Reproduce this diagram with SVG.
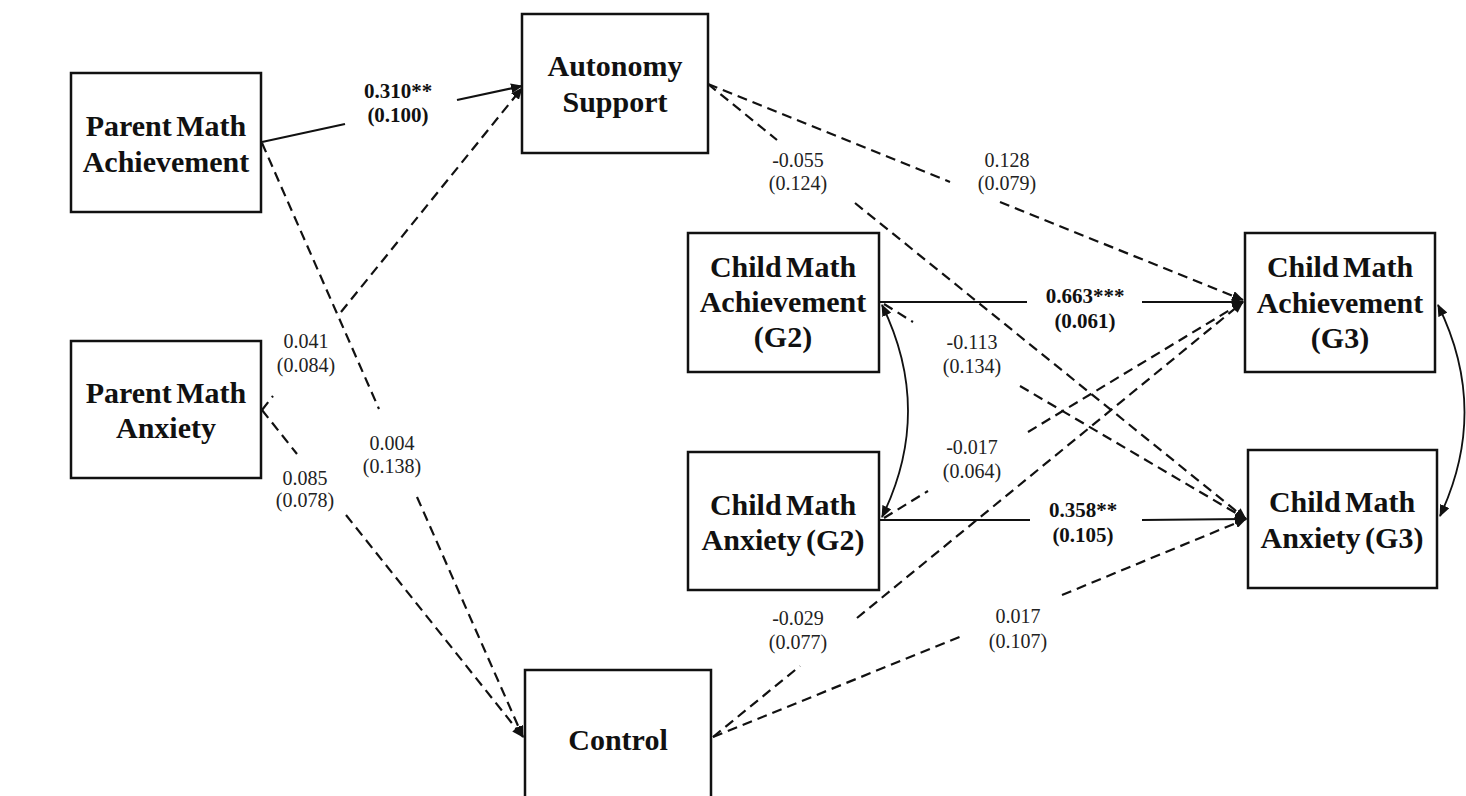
<svg xmlns="http://www.w3.org/2000/svg" width="1466" height="796" viewBox="0 0 1466 796">
<style>
.box{fill:#fff;stroke:#111;stroke-width:2.5}
.nt{font-family:"Liberation Serif","Times New Roman",serif;font-weight:bold;font-size:30px;fill:#111;text-anchor:middle;word-spacing:-3px}
.lb{font-family:"Liberation Serif","Times New Roman",serif;font-size:20px;fill:#222;text-anchor:middle}
.lbb{font-family:"Liberation Serif","Times New Roman",serif;font-size:21px;font-weight:bold;fill:#111;text-anchor:middle}
.sol{fill:none;stroke:#111;stroke-width:2.2}
.das{fill:none;stroke:#111;stroke-width:2.2;stroke-dasharray:10 6}
.cur{fill:none;stroke:#111;stroke-width:1.8}
</style>
<defs>
<marker id="ah" markerUnits="userSpaceOnUse" markerWidth="12" markerHeight="10" refX="11" refY="5" orient="auto-start-reverse">
<path d="M0,0 L12,5 L0,10 Z" fill="#111"/>
</marker>
</defs>
<rect width="1466" height="796" fill="#fff"/>
<g id="connectors">
<line class="sol" x1="262" y1="142" x2="345" y2="124"/>
<line class="sol" x1="457" y1="100" x2="522" y2="86" marker-end="url(#ah)"/>
<line class="das" x1="262" y1="410" x2="273" y2="396"/>
<line class="das" x1="341" y1="312" x2="522" y2="88" marker-end="url(#ah)"/>
<line class="das" x1="262" y1="143" x2="379" y2="409"/>
<line class="das" x1="417" y1="497" x2="523" y2="737" marker-end="url(#ah)"/>
<line class="das" x1="262" y1="410" x2="297" y2="454"/>
<line class="das" x1="346" y1="515" x2="523" y2="737" marker-end="url(#ah)"/>
<line class="das" x1="708" y1="84" x2="950" y2="182"/>
<line class="das" x1="1000" y1="202" x2="1243" y2="300" marker-end="url(#ah)"/>
<line class="das" x1="708" y1="84" x2="777" y2="140"/>
<line class="das" x1="855" y1="203" x2="1246" y2="519" marker-end="url(#ah)"/>
<line class="sol" x1="880" y1="302" x2="1027" y2="302"/>
<line class="sol" x1="1142" y1="302" x2="1243" y2="302" marker-end="url(#ah)"/>
<line class="sol" x1="880" y1="520" x2="1030" y2="520"/>
<line class="sol" x1="1142" y1="520" x2="1246" y2="519" marker-end="url(#ah)"/>
<line class="das" x1="884" y1="304" x2="913" y2="322"/>
<line class="das" x1="1020" y1="386" x2="1246" y2="519" marker-end="url(#ah)"/>
<line class="das" x1="884" y1="518" x2="928" y2="491"/>
<line class="das" x1="1028" y1="432" x2="1243" y2="302" marker-end="url(#ah)"/>
<line class="das" x1="713" y1="737" x2="800" y2="666"/>
<line class="das" x1="857" y1="618" x2="1243" y2="302" marker-end="url(#ah)"/>
<line class="das" x1="713" y1="737" x2="962" y2="636"/>
<line class="das" x1="1062" y1="595" x2="1246" y2="519" marker-end="url(#ah)"/>
<path class="cur" d="M882,305 Q934,411 882,517" marker-start="url(#ah)" marker-end="url(#ah)"/>
<path class="cur" d="M1438,305 Q1490,410 1440,516" marker-start="url(#ah)" marker-end="url(#ah)"/>
</g>
<g id="labels">
<text class="lbb" x="398" y="98">0.310**</text>
<text class="lbb" x="398" y="122">(0.100)</text>
<text class="lb" x="306" y="348">0.041</text>
<text class="lb" x="306" y="372">(0.084)</text>
<text class="lb" x="392" y="450">0.004</text>
<text class="lb" x="392" y="473">(0.138)</text>
<text class="lb" x="305" y="485">0.085</text>
<text class="lb" x="305" y="507">(0.078)</text>
<text class="lb" x="798" y="167">-0.055</text>
<text class="lb" x="798" y="190">(0.124)</text>
<text class="lb" x="1007" y="167">0.128</text>
<text class="lb" x="1007" y="190">(0.079)</text>
<text class="lbb" x="1085" y="303">0.663***</text>
<text class="lbb" x="1085" y="328">(0.061)</text>
<text class="lb" x="972" y="349">-0.113</text>
<text class="lb" x="972" y="373">(0.134)</text>
<text class="lb" x="972" y="454">-0.017</text>
<text class="lb" x="972" y="478">(0.064)</text>
<text class="lbb" x="1083" y="517">0.358**</text>
<text class="lbb" x="1083" y="542">(0.105)</text>
<text class="lb" x="798" y="625">-0.029</text>
<text class="lb" x="798" y="649">(0.077)</text>
<text class="lb" x="1018" y="623">0.017</text>
<text class="lb" x="1018" y="648">(0.107)</text>
</g>
<g id="parent-math-achievement">
<rect class="box" x="71" y="73" width="190" height="139"/>
<text class="nt" x="166" y="136">Parent Math</text>
<text class="nt" x="166" y="172">Achievement</text>
</g>
<g id="parent-math-anxiety">
<rect class="box" x="71" y="341" width="190" height="137"/>
<text class="nt" x="166" y="403">Parent Math</text>
<text class="nt" x="166" y="438">Anxiety</text>
</g>
<g id="autonomy-support">
<rect class="box" x="522" y="14" width="186" height="139"/>
<text class="nt" x="615" y="76">Autonomy</text>
<text class="nt" x="615" y="112">Support</text>
</g>
<g id="child-math-achievement-g2">
<rect class="box" x="688" y="233" width="191" height="139"/>
<text class="nt" x="783" y="277">Child Math</text>
<text class="nt" x="783" y="312">Achievement</text>
<text class="nt" x="783" y="347">(G2)</text>
</g>
<g id="child-math-anxiety-g2">
<rect class="box" x="688" y="452" width="191" height="138"/>
<text class="nt" x="783" y="515">Child Math</text>
<text class="nt" x="783" y="550">Anxiety (G2)</text>
</g>
<g id="child-math-achievement-g3">
<rect class="box" x="1245" y="233" width="190" height="139"/>
<text class="nt" x="1340" y="277">Child Math</text>
<text class="nt" x="1340" y="313">Achievement</text>
<text class="nt" x="1340" y="348">(G3)</text>
</g>
<g id="child-math-anxiety-g3">
<rect class="box" x="1248" y="450" width="189" height="138"/>
<text class="nt" x="1342" y="512">Child Math</text>
<text class="nt" x="1342" y="548">Anxiety (G3)</text>
</g>
<g id="control">
<rect class="box" x="525" y="670" width="186" height="140"/>
<text class="nt" x="618" y="750">Control</text>
</g>
</svg>
